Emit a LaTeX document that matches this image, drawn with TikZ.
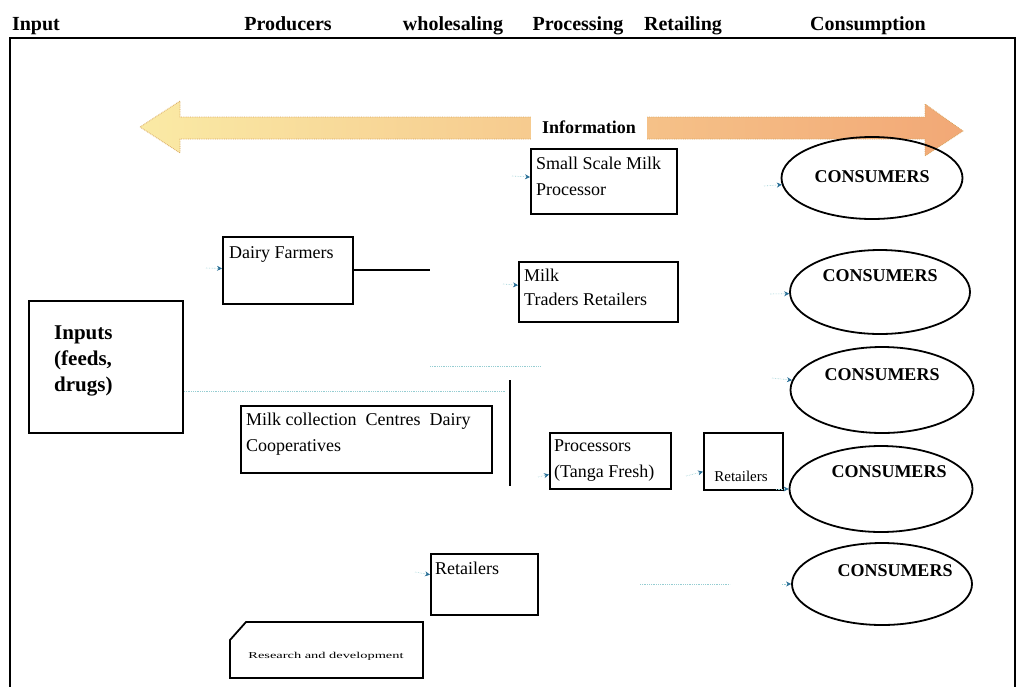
\documentclass[tikz,border=0pt]{standalone}
\usepackage{fontspec}
\usepackage{graphicx}
\setmainfont{Liberation Serif}
\usetikzlibrary{shapes.geometric,arrows.meta,calc}
\definecolor{arrowL}{RGB}{250,234,165}
\definecolor{arrowR}{RGB}{242,168,118}
\definecolor{arrowEdge}{RGB}{215,165,95}
\definecolor{faintcyan}{RGB}{150,205,210}
\definecolor{tipblue}{RGB}{40,110,150}
\begin{document}
\begin{tikzpicture}[x=1pt,y=-1pt,
  hdr/.style={font=\fontsize{20}{22}\selectfont\bfseries, anchor=base, inner sep=0},
  box/.style={draw, line width=1.8pt, rectangle, inner sep=0, anchor=north west},
  lbl/.style={font=\fontsize{18}{24}\selectfont, anchor=north west, align=left, inner sep=0},
  cons/.style={draw, ellipse, line width=1.8pt, inner sep=0},
  constxt/.style={font=\fontsize{18}{20}\selectfont\bfseries, inner sep=0},
  conn/.style={line width=1.8pt},
  stub/.style={draw=faintcyan, densely dotted, line width=0.6pt, -{Stealth[length=5pt,width=5pt,color=tipblue]}},
  faint/.style={draw=faintcyan, densely dotted, line width=0.8pt}]
\useasboundingbox (0,0) rectangle (1019,686);

% outer frame
\draw[line width=1.5pt] (10,690) -- (10,38) -- (1015,38) -- (1015,690);

% headers
\node[hdr] (hInput) at (36,30) {Input};
\node[hdr] (hProd) at (288,30) {Producers};
\node[hdr] (hWhole) at (453,30) {wholesaling};
\node[hdr] (hProc) at (578,30) {Processing};
\node[hdr] (hRet) at (683,30) {Retailing};
\node[hdr] (hCons) at (868,30) {Consumption};

% information arrow
\shade[left color=arrowL, right color=arrowR]
  (140,127) -- (180,101) -- (180,117) -- (925,117) -- (925,104) -- (963,131)
  -- (925,156) -- (925,139) -- (180,139) -- (180,153) -- cycle;
\draw[arrowEdge, densely dotted, line width=0.8pt]
  (140,127) -- (180,101) -- (180,117) -- (925,117) -- (925,104) -- (963,131)
  -- (925,156) -- (925,139) -- (180,139) -- (180,153) -- cycle;
\node[fill=white, inner xsep=11pt, inner ysep=14pt, font=\fontsize{18}{20}\selectfont\bfseries] (info) at (589,127) {Information};

% boxes
\node[box, minimum width=154pt, minimum height=132pt] (inp) at (28,300) {};
\node[font=\fontsize{21}{26}\selectfont\bfseries, anchor=north west, align=left, inner sep=0] (inpt) at (54,326) {Inputs\\(feeds,\\drugs)};

\node[box, minimum width=130pt, minimum height=67pt] (df) at (222,236) {};
\node[lbl] (dft) at (229,246) {Dairy Farmers};

\node[box, minimum width=146pt, minimum height=65pt] (ssmp) at (530,148) {};
\node[lbl, font=\fontsize{18}{26}\selectfont] (ssmpt) at (536,157) {Small Scale Milk\\Processor};

\node[box, minimum width=159pt, minimum height=60pt] (mtr) at (518,261) {};
\node[lbl] (mtrt) at (524,269) {Milk\\Traders Retailers};

\node[box, minimum width=251pt, minimum height=67pt] (mcc) at (240,405) {};
\node[lbl, font=\fontsize{18}{26}\selectfont] (mcct) at (246,413) {Milk collection \ Centres \ Dairy\\Cooperatives};

\node[box, minimum width=121pt, minimum height=56pt] (proc) at (549,432) {};
\node[lbl, font=\fontsize{18}{26}\selectfont] (proct) at (554,440) {Processors\\(Tanga Fresh)};

\node[box, minimum width=79pt, minimum height=57pt] (ret1) at (703,432) {};
\node[font=\fontsize{15}{17}\selectfont, inner sep=0] (ret1t) at (741,476) {Retailers};

\node[box, minimum width=107pt, minimum height=61pt] (ret2) at (430,553) {};
\node[lbl] (ret2t) at (435,562) {Retailers};

% research and development (cut corner)
\draw[line width=1.8pt] (246,622) -- (423,622) -- (423,678) -- (230,678) -- (230,640) -- cycle;
\node[inner sep=0] (rdt) at (326,656) {\scalebox{1.6}[1]{\fontsize{9}{10}\selectfont Research and development}};

% consumers
\node[cons, minimum width=181pt, minimum height=82pt] (c1) at (872,178) {};
\node[cons, minimum width=180pt, minimum height=84pt] (c2) at (880,292) {};
\node[cons, minimum width=183pt, minimum height=86pt] (c3) at (882,390) {};
\node[cons, minimum width=183pt, minimum height=86pt] (c4) at (881,489) {};
\node[cons, minimum width=180pt, minimum height=82pt] (c5) at (882,584) {};
\node[constxt] (c1t) at (872,177) {CONSUMERS};
\node[constxt] (c2t) at (880,276) {CONSUMERS};
\node[constxt] (c3t) at (882,375) {CONSUMERS};
\node[constxt] (c4t) at (889,472) {CONSUMERS};
\node[constxt] (c5t) at (895,571) {CONSUMERS};

% solid connectors
\coordinate (dfend) at (430,270);
\draw[conn] (df.east |- dfend) -- (dfend);
\coordinate (v1) at (510,380);
\coordinate (v2) at (510,486);
\draw[conn] (v1) -- (v2);

% faint connectors
\coordinate (f1) at (184,391);
\coordinate (f2) at (505,391);
\draw[faint] (f1) -- (f2);
\coordinate (f3) at (430,366);
\coordinate (f4) at (540,366);
\draw[faint] (f3) -- (f4);
\coordinate (f5) at (640,584);
\coordinate (f6) at (730,584);
\draw[faint] (f5) -- (f6);

% arrow stubs
\coordinate (s1) at (764,186);
\coordinate (s2) at (770,294);
\coordinate (s3) at (772,378);
\coordinate (s4) at (776,489);
\coordinate (s5) at (782,584);
\coordinate (s6) at (206,268);
\coordinate (s7) at (512,176);
\coordinate (s8) at (503,284);
\coordinate (s9) at (538,477);
\coordinate (s10) at (686,476);
\coordinate (s11) at (415,572);
\draw[stub] (s1) -- (c1);
\draw[stub] (s2) -- (c2);
\draw[stub] (s3) -- (c3);
\draw[stub] (s4) -- (c4);
\draw[stub] (s5) -- (c5);
\draw[stub] (s6) -- (df);
\draw[stub] (s7) -- (ssmp);
\draw[stub] (s8) -- (mtr);
\draw[stub] (s9) -- (proc);
\draw[stub] (s10) -- (ret1);
\draw[stub] (s11) -- (ret2);
\end{tikzpicture}
\end{document}
